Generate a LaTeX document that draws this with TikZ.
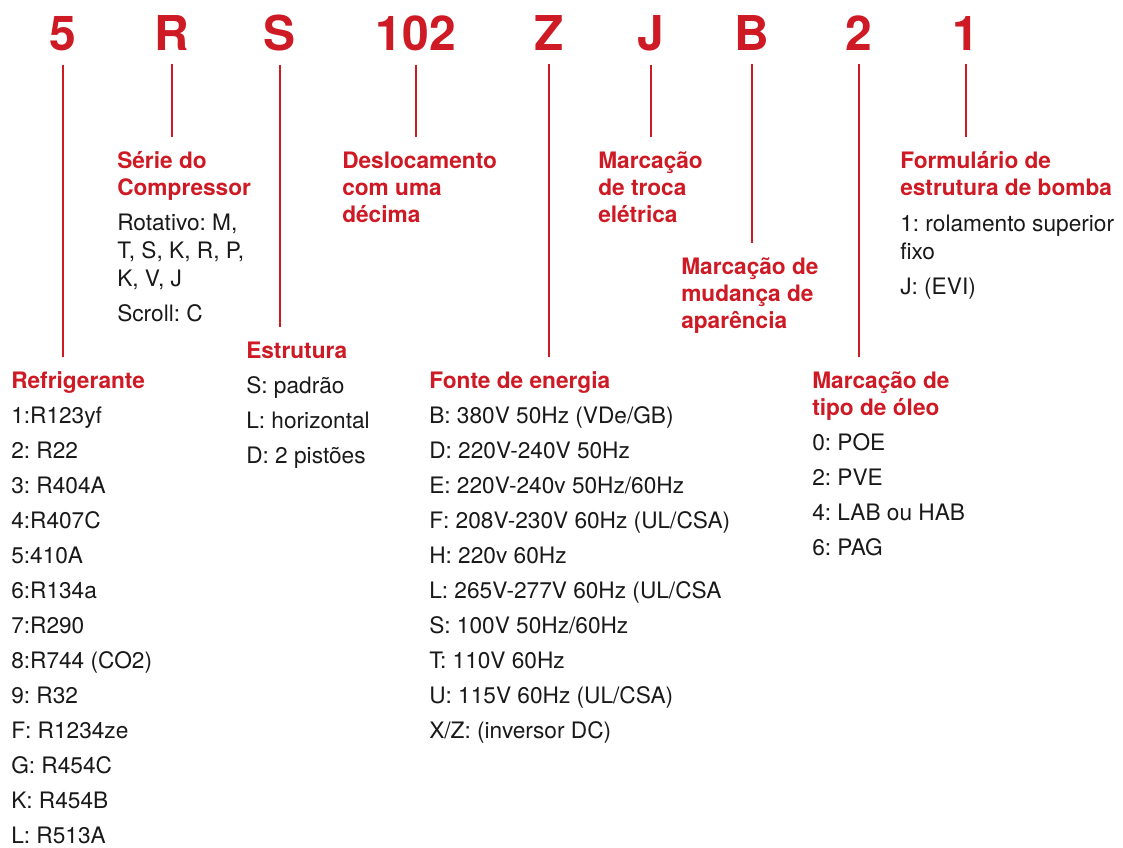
\documentclass[tikz,border=0pt]{standalone}
\usepackage{fontspec}
\setmainfont{TeX Gyre Heros}
\frenchspacing
\definecolor{codered}{RGB}{206,26,36}
\definecolor{ink}{RGB}{25,25,25}

\begin{document}
\begin{tikzpicture}[x=0.75pt,y=-0.75pt,
    code/.style={font=\fontsize{36}{36}\selectfont\bfseries, text=codered, anchor=base, inner sep=0pt},
    head/.style={font=\fontsize{17}{20.25}\selectfont\bfseries, text=codered, anchor=north west, yshift=12.3pt, align=left, inner sep=0pt},
    list/.style={font=\fontsize{17}{26.25}\selectfont, text=ink, anchor=north west, yshift=12.3pt, align=left, inner sep=0pt},
    lead/.style={draw=codered, line width=1.8pt, shorten <=9.75pt, shorten >=11pt}]
  \useasboundingbox (0,0) rectangle (1123,848);
  \node[code] (c5) at (63,51) {5};
  \node[code] (cR) at (172,51) {R};
  \node[code] (cS) at (280,51) {S};
  \node[code] (c102) at (416,51) {102};
  \node[code] (cZ) at (549,51) {Z};
  \node[code] (cJ) at (651,51) {J};
  \node[code] (cB) at (752,51) {B};
  \node[code] (c2) at (859,51) {2};
  \node[code] (c1) at (966,51) {1};

  \node[head] (refr) at (11,388) {Refrigerante};
  \node[head] (serie) at (117,168) {Série do\\Compressor};
  \node[head] (estr) at (246,358) {Estrutura};
  \node[head] (desl) at (342,168) {Deslocamento\\com uma\\décima};
  \node[head] (fonte) at (429,388) {Fonte de energia};
  \node[head] (troca) at (598,168) {Marcação\\de troca\\elétrica};
  \node[head] (apar) at (681,274) {Marcação de\\mudança de\\aparência};
  \node[head] (oleo) at (812,388) {Marcação de\\tipo de óleo};
  \node[head] (bomba) at (900,168) {Formulário de\\estrutura de bomba};

  \node[list] (refrlist) at (11,423) {1:R123yf\\2: R22\\3: R404A\\4:R407C\\5:410A\\6:R134a\\7:R290\\8:R744 (CO2)\\9: R32\\F: R1234ze\\G: R454C\\K: R454B\\L: R513A};
  \node[list] (serielist) at (117,230) {Rotativo: M,\\[-5.25pt]T, S, K, R, P,\\[-5.25pt]K, V, J\\Scroll: C};
  \node[list] (estrlist) at (246,393) {S: padrão\\L: horizontal\\D: 2 pistões};
  \node[list] (fontelist) at (429,423) {B: 380V 50Hz (VDe/GB)\\D: 220V-240V 50Hz\\E: 220V-240v 50Hz/60Hz\\F: 208V-230V 60Hz (UL/CSA)\\H: 220v 60Hz\\L: 265V-277V 60Hz (UL/CSA\\S: 100V 50Hz/60Hz\\T: 110V 60Hz\\U: 115V 60Hz (UL/CSA)\\X/Z: (inversor DC)};
  \node[list] (oleolist) at (812,450) {0: POE\\2: PVE\\4: LAB ou HAB\\6: PAG};
  \node[list] (bombalist) at (900,231) {1: rolamento superior\\[-5.25pt]fixo\\J: (EVI)};

  \draw[lead] (c5.south) -- (c5.south |- refr.north);
  \draw[lead] (cR.south) -- (cR.south |- serie.north);
  \draw[lead] (cS.south) -- (cS.south |- estr.north);
  \draw[lead] (c102.south) -- (c102.south |- desl.north);
  \draw[lead] (cZ.south) -- (cZ.south |- fonte.north);
  \draw[lead] (cJ.south) -- (cJ.south |- troca.north);
  \draw[lead] (cB.south) -- (cB.south |- apar.north);
  \draw[lead] (c2.south) -- (c2.south |- oleo.north);
  \draw[lead] (c1.south) -- (c1.south |- bomba.north);
\end{tikzpicture}
\end{document}
